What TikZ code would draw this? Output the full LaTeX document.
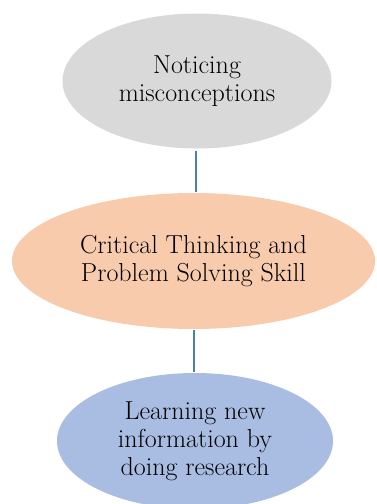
\documentclass[tikz,border=0pt]{standalone}
\usetikzlibrary{shapes.geometric}
\definecolor{noticegray}{HTML}{D9D9D9}
\definecolor{skillpeach}{HTML}{F8CBAD}
\definecolor{researchblue}{HTML}{A9BCE2}
\definecolor{linkblue}{HTML}{4A7EBB}
\begin{document}
\begin{tikzpicture}[x=1pt, y=-1pt,
        bubble/.style={ellipse, inner sep=0pt, align=center,
          font=\fontsize{26}{28}\selectfont},
        link/.style={draw=linkblue, line width=2pt}
      ]
      \useasboundingbox (0, 0) rectangle (376, 504);
      % bubbles
      \node[bubble, fill=noticegray, minimum width=269pt, minimum height=135pt]
        at (197, 81) (notice) {Noticing\\misconceptions};
      \node[bubble, fill=skillpeach, minimum width=363pt, minimum height=136pt]
        at (193.5, 261) (critical) {Critical Thinking and\\Problem Solving Skill};
      \node[bubble, fill=researchblue, minimum width=276pt, minimum height=136pt]
        at (195, 441) (research) {Learning new\\information by\\doing research};
      % links
      \draw[link, shorten <=2pt, shorten >=1pt]
        ([xshift=-1pt]notice.south) -- ([xshift=-1pt]notice.south |- critical.north);
      \draw[link, shorten <=1pt, shorten >=1pt]
        (critical.south) -- (critical.south |- research.north);
  \end{tikzpicture}
\end{document}
